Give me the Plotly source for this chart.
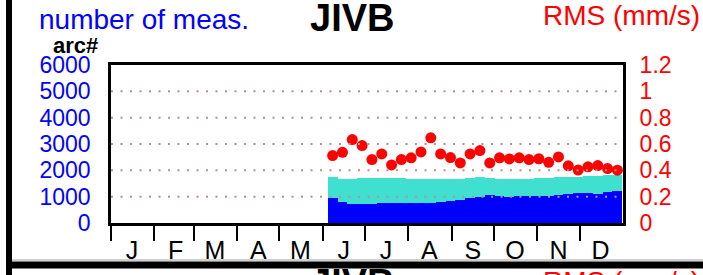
import plotly.graph_objects as go
import pandas as pd

# ---------------- data ----------------
week_dates = [d.strftime("%Y-%m-%d") for d in pd.date_range("2019-06-08", periods=30, freq="7D")]

rms = [0.512, 0.537, 0.634, 0.588, 0.482, 0.525, 0.441, 0.482, 0.495, 0.540,
       0.647, 0.525, 0.497, 0.456, 0.525, 0.550, 0.456, 0.495, 0.487, 0.495,
       0.482, 0.488, 0.461, 0.502, 0.434, 0.402, 0.427, 0.436, 0.413, 0.401]

meas_blue = [950, 800, 730, 735, 740, 750, 765, 770, 775, 770,
             775, 780, 820, 880, 945, 1000, 1045, 1010, 1005, 1010,
             1030, 1035, 1035, 1060, 1110, 1137, 1137, 1100, 1165, 1200]

meas_total = [1745, 1690, 1670, 1710, 1710, 1710, 1710, 1700, 1690, 1690,
              1690, 1690, 1690, 1690, 1700, 1745, 1700, 1690, 1690, 1683,
              1683, 1700, 1710, 1730, 1755, 1740, 1780, 1780, 1820, 1830]
meas_cyan = [t - b for t, b in zip(meas_total, meas_blue)]

month_starts = ["2019-%02d-01" % m for m in range(1, 13)]
month_mids = ["2019-%02d-16" % m for m in range(1, 13)]
month_letters = ["J", "F", "M", "A", "M", "J", "J", "A", "S", "O", "N", "D"]

left_ticks = [0, 1000, 2000, 3000, 4000, 5000, 6000]
left_text = ["0", "1000", "2000", "3000", "4000", "5000", "6000"]
right_ticks = [0, 0.2, 0.4, 0.6, 0.8, 1.0, 1.2]
right_text = ["0", "0.2", "0.4", "0.6", "0.8", "1", "1.2"]
grid_vals = [1000, 2000, 3000, 4000, 5000]

station = "JIVB"

# ---------------- figure ----------------
W, H = 703, 275
L, R, T, B = 111, 623, 65, 223


def px(p):
    return (p - L) / (R - L)


def py(p):
    return (B - p) / (B - T)


FONT = "Liberation Sans, Arial, sans-serif"
WEEK_MS = 7 * 24 * 3600 * 1000

fig = go.Figure()
fig.add_trace(go.Bar(x=week_dates, y=meas_blue, width=[WEEK_MS] * len(week_dates),
                     marker=dict(color="#0000ff", line=dict(width=0)), yaxis="y"))
fig.add_trace(go.Bar(x=week_dates, y=meas_cyan, width=[WEEK_MS] * len(week_dates),
                     marker=dict(color="#40e0d0", line=dict(width=0)), yaxis="y"))
fig.add_trace(go.Scatter(x=week_dates, y=rms, mode="markers", yaxis="y2",
                         marker=dict(color="#ff0000", size=11, line=dict(width=0))))

shapes = []
for g in grid_vals:
    shapes.append(dict(type="line", xref="paper", yref="y", x0=0, x1=1, y0=g, y1=g,
                       line=dict(color="#b89090", width=2, dash="2px,7.5px"), layer="above"))
# panel decorations
shapes.append(dict(type="rect", xref="paper", yref="paper", x0=px(6), x1=px(12),
                   y0=py(280), y1=py(-5), fillcolor="black", line=dict(width=0)))
shapes.append(dict(type="rect", xref="paper", yref="paper", x0=px(6), x1=px(710),
                   y0=py(268.5), y1=py(261.5), fillcolor="black", line=dict(width=0)))
shapes.append(dict(type="line", xref="paper", yref="paper", x0=px(12), x1=px(710),
                   y0=py(260), y1=py(260), line=dict(color="#a0a0a0", width=1)))

annotations = [
    dict(text="number of meas.", x=px(37), y=py(19), xref="paper", yref="paper",
         xanchor="left", yanchor="middle", showarrow=False,
         font=dict(family=FONT, size=28, color="#0000ff")),
    dict(text="<b>%s</b>" % station, x=px(351.5), y=py(18), xref="paper", yref="paper",
         xanchor="center", yanchor="middle", showarrow=False,
         font=dict(family=FONT, size=38, color="black")),
    dict(text="RMS (mm/s)", x=px(702), y=py(16), xref="paper", yref="paper",
         xanchor="right", yanchor="middle", showarrow=False,
         font=dict(family=FONT, size=28, color="#ff0000")),
    dict(text="<b>arc#</b>", x=px(75), y=py(45), xref="paper", yref="paper",
         xanchor="center", yanchor="middle", showarrow=False,
         font=dict(family=FONT, size=22, color="black")),
    dict(text="<b>%s</b>" % station, x=px(351.5), y=py(283), xref="paper", yref="paper",
         xanchor="center", yanchor="middle", showarrow=False,
         font=dict(family=FONT, size=38, color="black")),
    dict(text="RMS (mm/s)", x=px(702), y=py(281), xref="paper", yref="paper",
         xanchor="right", yanchor="middle", showarrow=False,
         font=dict(family=FONT, size=28, color="#ff0000")),
]

fig.update_layout(
    width=W, height=H, autosize=False,
    margin=dict(l=L, r=W - R, t=T, b=H - B, pad=0, autoexpand=False),
    paper_bgcolor="white", plot_bgcolor="white",
    barmode="stack", bargap=0, showlegend=False,
    font=dict(family=FONT),
    xaxis=dict(type="date", range=["2019-01-01", "2020-01-01"], automargin=False,
               tickmode="array", tickvals=month_mids, ticktext=month_letters,
               ticks="outside", ticklen=3, tickcolor="rgba(0,0,0,0)",
               tickfont=dict(family=FONT, size=25, color="black"),
               showgrid=False, zeroline=False,
               showline=True, linecolor="black", linewidth=2.5, mirror=True,
               minor=dict(tickmode="array", tickvals=month_starts, ticks="outside",
                          ticklen=15, tickwidth=2, tickcolor="black", showgrid=False)),
    yaxis=dict(range=[0, 6000], tickmode="array", tickvals=left_ticks, ticktext=left_text,
               automargin=False,
               ticks="outside", ticklen=13, tickcolor="rgba(0,0,0,0)",
               tickfont=dict(family=FONT, size=23, color="#0000ff"),
               showgrid=False, zeroline=False,
               showline=True, linecolor="black", linewidth=2.5, mirror=True),
    yaxis2=dict(range=[0, 1.2], overlaying="y", side="right", tickmode="array",
                tickvals=right_ticks, ticktext=right_text, automargin=False,
                ticks="outside", ticklen=11, tickcolor="rgba(0,0,0,0)",
                tickfont=dict(family=FONT, size=23, color="#ff0000"),
                showgrid=False, zeroline=False, showline=False),
    shapes=shapes, annotations=annotations,
)

fig.write_html("out.html", config={"displayModeBar": False},
               post_script="document.body.style.margin='0px';document.body.style.overflow='hidden';")
